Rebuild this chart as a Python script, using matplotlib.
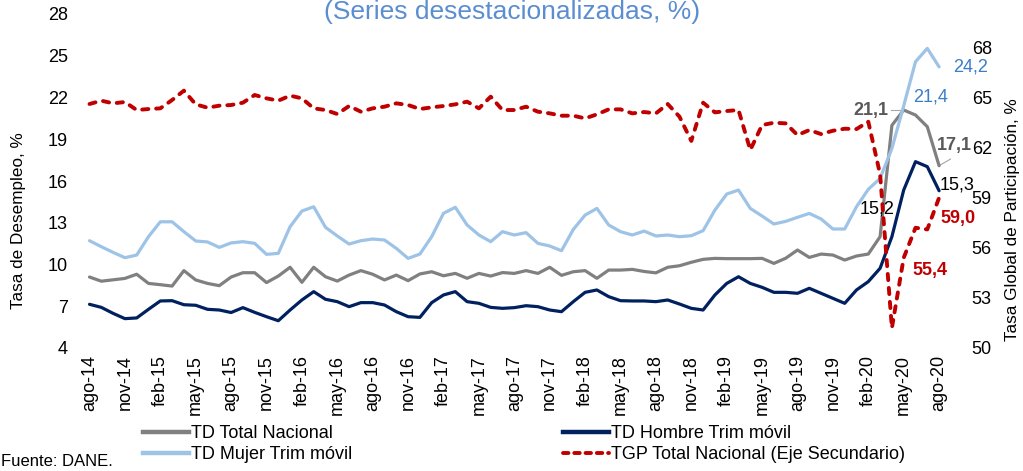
import matplotlib
matplotlib.use("Agg")
import matplotlib.pyplot as plt
from matplotlib.lines import Line2D

plt.rcParams['font.family'] = ['Liberation Sans', 'DejaVu Sans']

# ---------------- data ----------------
tick_labels = ['ago-14', 'nov-14', 'feb-15', 'may-15', 'ago-15', 'nov-15', 'feb-16', 'may-16',
               'ago-16', 'nov-16', 'feb-17', 'may-17', 'ago-17', 'nov-17', 'feb-18', 'may-18',
               'ago-18', 'nov-18', 'feb-19', 'may-19', 'ago-19', 'nov-19', 'feb-20', 'may-20', 'ago-20']

td_total = [9.1, 8.8, 8.9, 9.0, 9.3, 8.64, 8.55, 8.45, 9.56, 8.89, 8.64, 8.48,
            9.1, 9.41, 9.41, 8.70, 9.17, 9.80, 8.72, 9.80, 9.12, 8.81, 9.24, 9.56,
            9.3, 8.89, 9.24, 8.84, 9.32, 9.48, 9.19, 9.36, 9.01, 9.36, 9.17, 9.42,
            9.36, 9.56, 9.36, 9.80, 9.22, 9.48, 9.56, 9.01, 9.60, 9.60, 9.65, 9.5,
            9.4, 9.80, 9.91, 10.16, 10.37, 10.44, 10.42, 10.42, 10.42, 10.44, 10.08, 10.45,
            11.04, 10.51, 10.75, 10.68, 10.32, 10.61, 10.75, 12.0, 20.0, 21.1, 20.74, 19.9,
            17.1]

td_mujer = [11.71, 11.28, 10.87, 10.49, 10.68, 12.0, 13.07, 13.07, 12.36, 11.69, 11.62, 11.23,
            11.55, 11.64, 11.52, 10.73, 10.80, 12.72, 13.84, 14.15, 12.67, 12.05, 11.47, 11.71,
            11.83, 11.76, 11.16, 10.44, 10.75, 12.0, 13.68, 14.11, 12.84, 12.12, 11.64, 12.36,
            12.12, 12.29, 11.52, 11.33, 10.99, 12.52, 13.55, 14.03, 12.84, 12.36, 12.12, 12.4,
            12.05, 12.12, 12.0, 12.07, 12.43, 13.91, 15.06, 15.35, 14.03, 13.48, 12.91, 13.1,
            13.39, 13.67, 13.27, 12.55, 12.55, 14.15, 15.40, 16.19, 18.34, 21.4, 24.57, 25.53,
            24.2]

td_hombre = [7.14, 6.92, 6.49, 6.11, 6.16, 6.78, 7.38, 7.40, 7.11, 7.07, 6.78, 6.73,
             6.55, 6.90, 6.56, 6.25, 5.96, 6.73, 7.45, 8.05, 7.50, 7.33, 6.97, 7.26,
             7.26, 7.09, 6.61, 6.25, 6.20, 7.26, 7.81, 8.05, 7.33, 7.21, 6.92, 6.85,
             6.90, 7.04, 6.97, 6.73, 6.61, 7.33, 8.0, 8.17, 7.69, 7.40, 7.38, 7.38,
             7.33, 7.45, 7.16, 6.85, 6.73, 7.81, 8.64, 9.12, 8.64, 8.36, 8.0, 8.0,
             7.93, 8.29, 7.93, 7.57, 7.21, 8.17, 8.77, 9.73, 12.0, 15.35, 17.39, 17.03,
             15.3]

tgp_total = [64.61, 64.81, 64.65, 64.73, 64.25, 64.31, 64.35, 64.85, 65.41, 64.59, 64.39, 64.51,
             64.55, 64.69, 65.15, 64.95, 64.81, 65.11, 64.95, 64.35, 64.25, 64.01, 64.49, 64.15,
             64.35, 64.45, 64.65, 64.55, 64.31, 64.41, 64.49, 64.59, 64.75, 64.35, 65.05, 64.25,
             64.25, 64.45, 64.15, 64.05, 63.91, 63.91, 63.75, 63.99, 64.29, 64.29, 64.05, 64.13,
             64.05, 64.61, 63.85, 62.40, 64.69, 64.11, 64.19, 64.25, 61.86, 63.35, 63.49, 63.45,
             62.75, 63.05, 62.81, 63.01, 63.13, 63.11, 63.55, 60.4, 51.2, 55.4, 57.2, 57.1,
             59.0]

months = list(range(len(td_total)))

# ---------------- figure ----------------
W, H = 1023, 471
fig = plt.figure(figsize=(W / 100, H / 100), dpi=100)

px_per_month = 11.8
x0_px = 89.5
xlim = (-1, 73)
left_px = x0_px + xlim[0] * px_per_month
right_px = x0_px + xlim[1] * px_per_month
top_px, bottom_px = 14, 348
ax = fig.add_axes([left_px / W, 1 - bottom_px / H, (right_px - left_px) / W, (bottom_px - top_px) / H])
ax2 = ax.twinx()

c_gray = '#808080'
c_navy = '#002060'
c_lblue = '#9DC3E6'
c_red = '#C00000'

l1, = ax.plot(months, td_total, color=c_gray, lw=2.3, solid_capstyle='round', zorder=2)
l3, = ax.plot(months, td_mujer, color=c_lblue, lw=2.3, solid_capstyle='round', zorder=3)
l2, = ax.plot(months, td_hombre, color=c_navy, lw=2.3, solid_capstyle='round', zorder=4)
l4, = ax2.plot(months, tgp_total, color=c_red, lw=2.8, dashes=(1.6, 2.0),
               dash_capstyle='round', zorder=5)

ax.set_xlim(*xlim)
ax.set_ylim(4, 28)
ax2.set_ylim(50, 70)
ax.set_yticks(range(4, 29, 3))
ax2.set_yticks(range(50, 69, 3))
ax.set_xticks(range(0, 73, 3))
ax.set_xticklabels(tick_labels, rotation=90, fontsize=13)

for a in (ax, ax2):
    for s in a.spines.values():
        s.set_visible(False)
ax.tick_params(axis='y', length=0, pad=7, labelsize=13)
ax.tick_params(axis='x', length=0, pad=5)
ax2.tick_params(axis='y', length=0, pad=15, labelsize=13)

fig.text(19 / W, 1 - 221 / H, 'Tasa de Desempleo, %', rotation=90, ha='center', va='center', fontsize=12.3)
fig.text(1012 / W, 1 - 220 / H, 'Tasa Global de Participación, %', rotation=90, ha='center', va='center',
         fontsize=12.3)

fig.text(512.5 / W, 1 - 19 / H, '(Series desestacionalizadas, %)', ha='center', va='baseline',
         fontsize=19, color='#5B8ED0')


def dx(px):
    return (px - x0_px) / px_per_month


def dyl(py):
    return 4 + (348 - py) / 13.92


def dyr(py):
    return 50 + (348 - py) / 16.7


# data labels
ax.text(dx(953), td_mujer[-1], '24,2', color='#3A7DC9', fontsize=13, ha='left', va='center')
ax.text(dx(913), dyl(97), '21,4', color='#3A7DC9', fontsize=13, ha='left', va='center')
ax.text(dx(888), td_total[69], '21,1', color='#595959', fontsize=13, ha='right', va='center', fontweight='bold')
ax.plot([dx(891), dx(906)], [td_total[69], td_total[69]], color='#A6A6A6', lw=0.8, zorder=1)
ax.text(dx(937), dyl(145), '17,1', color='#595959', fontsize=13, ha='left', va='center', fontweight='bold')
ax.plot([72, dx(954)], [td_total[72], dyl(157)], color='#A6A6A6', lw=0.8, zorder=1)
ax.text(dx(940), dyl(185), '15,3', color='black', fontsize=13, ha='left', va='center')
ax.text(dx(860), dyl(209), '15,2', color='black', fontsize=13, ha='left', va='center')
ax2.text(dx(940), dyr(218), '59,0', color=c_red, fontsize=13, ha='left', va='center', fontweight='bold')
ax2.text(dx(912), dyr(270), '55,4', color=c_red, fontsize=13, ha='left', va='center', fontweight='bold')

# legends
leg_kw = dict(frameon=False, fontsize=13, handlelength=2.55, handletextpad=0.12, borderpad=0,
              labelspacing=0.22, loc='upper left')
h1 = Line2D([], [], color=c_gray, lw=3.2)
h3 = Line2D([], [], color=c_lblue, lw=3.2)
h2 = Line2D([], [], color=c_navy, lw=3.2)
h4 = Line2D([], [], color=c_red, lw=2.8, dashes=(1.4, 1.5), dash_capstyle='round')
legA = fig.legend([h1, h3], ['TD Total Nacional', 'TD Mujer Trim móvil'],
                  bbox_to_anchor=(134 / W, 1 - 416 / H), **leg_kw)
legB = fig.legend([h2, h4], ['TD Hombre Trim móvil', 'TGP Total Nacional (Eje Secundario)'],
                  bbox_to_anchor=(554 / W, 1 - 416 / H), **leg_kw)

fig.text(1 / W, 1 - 462 / H, 'Fuente: DANE.', ha='left', va='center', fontsize=12)

fig.savefig('out.png', dpi=100)
